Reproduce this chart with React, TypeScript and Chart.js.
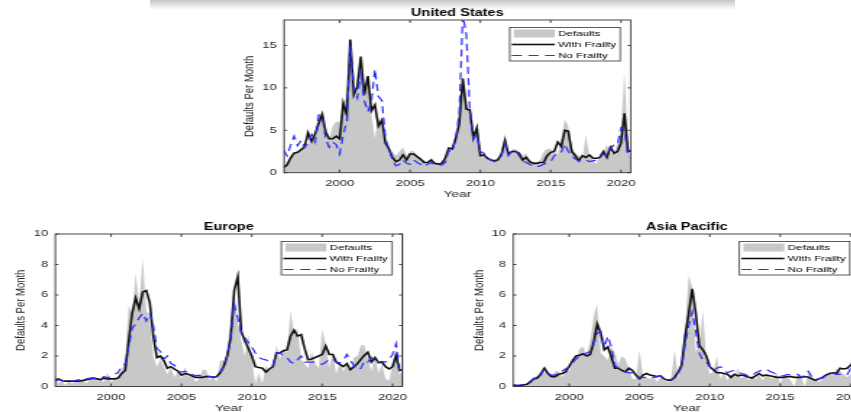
import React, { useEffect, useRef } from "react";
import { Chart, registerables } from "chart.js";

Chart.register(...registerables);

// ---------- data ----------
const YEARS = Array.from({ length: 100 }, (_, i) => 1996 + i / 4); // quarterly, 1996.00 .. 2020.75
const X_TICKS = [2000, 2005, 2010, 2015, 2020];
const US_Y_TICKS = [0, 5, 10, 15];
const REGION_Y_TICKS = [0, 2, 4, 6, 8, 10];
const SERIES_NAMES = ["Defaults", "With Frailty", "No Frailty"];
const X_TITLE = "Year";
const Y_TITLE = "Defaults Per Month";

const US_DEFAULTS = [
  0.5, 1.2, 2.0, 2.3, 2.5, 3.0, 3.5, 3.3, 4.0, 4.2, 6.5, 7.0, 5.0, 4.0, 5.5, 6.0,
  6.0, 8.0, 9.0, 14.5, 9.5, 10.0, 12.0, 9.0, 10.5, 7.0, 4.0, 6.5, 5.5, 3.5, 2.5, 2.5,
  2.0, 2.5, 3.0, 2.0, 2.5, 2.6, 2.0, 1.5, 1.5, 1.0, 1.8, 1.2, 1.2, 1.0, 2.0, 2.5,
  3.2, 4.5, 6.0, 10.5, 8.0, 7.0, 5.0, 4.5, 2.3, 2.0, 1.8, 1.5, 1.5, 1.8, 2.5, 4.7,
  2.0, 2.8, 2.8, 2.5, 2.0, 2.3, 1.5, 1.3, 1.2, 1.5, 2.5, 2.8, 2.8, 2.5, 2.2, 4.0,
  6.3, 5.5, 3.0, 2.3, 2.0, 1.5, 4.5, 2.0, 1.5, 1.0, 2.3, 2.5, 3.3, 2.3, 2.2, 3.5,
  5.0, 11.8, 3.5, 2.0,
];
const US_FRAILTY = [
  0.6, 0.9, 1.7, 2.3, 2.4, 2.7, 3.0, 4.7, 3.7, 4.6, 5.8, 6.9, 4.8, 4.0, 4.0, 4.3,
  4.0, 8.2, 6.8, 15.7, 9.2, 10.2, 13.7, 9.2, 11.4, 7.3, 8.0, 5.5, 6.2, 3.5, 2.8, 1.8,
  1.3, 1.5, 2.1, 1.5, 2.2, 2.2, 1.9, 1.6, 1.2, 1.2, 1.5, 1.1, 1.0, 1.1, 1.7, 2.9,
  2.8, 4.0, 5.8, 11.1, 7.5, 7.4, 4.1, 5.3, 2.0, 2.1, 1.7, 1.5, 1.4, 1.5, 2.2, 3.8,
  2.2, 2.5, 2.5, 2.3, 1.5, 1.8, 1.3, 1.1, 1.1, 1.2, 1.2, 2.0, 2.4, 2.5, 3.6, 3.1,
  5.0, 4.9, 2.5, 2.0, 1.4, 2.0, 1.8, 2.1, 1.7, 1.7, 1.8, 2.5, 1.8, 3.0, 2.3, 2.5,
  3.5, 7.0, 2.5, 2.6,
];
const US_NO_FRAILTY = [
  2.7, 2.0, 3.2, 4.3, 3.2, 3.8, 3.0, 3.5, 4.5, 3.6, 6.8, 6.6, 4.0, 3.0, 3.6, 3.3,
  2.2, 4.5, 6.0, 15.0, 10.0, 8.8, 11.9, 8.5, 7.2, 8.4, 12.2, 9.0, 8.5, 4.0, 2.8, 1.5,
  0.8, 1.0, 1.5, 1.1, 1.0, 1.5, 1.2, 1.0, 0.7, 1.0, 1.2, 0.9, 0.9, 0.9, 1.2, 2.6,
  2.5, 4.0, 7.0, 18.5, 16.3, 7.5, 4.0, 4.5, 2.5, 2.3, 1.7, 1.5, 1.3, 1.5, 2.0, 3.4,
  2.0, 2.6, 2.6, 2.0, 1.4, 1.2, 1.0, 0.7, 0.7, 0.8, 1.0, 1.2, 1.3, 2.0, 2.3, 2.4,
  3.4, 2.5, 2.0, 1.6, 1.4, 1.5, 1.5, 1.3, 1.4, 1.5, 1.8, 2.2, 2.0, 2.8, 3.3, 3.3,
  5.3, 5.0, 2.0, 1.8,
];

const EU_DEFAULTS = [
  0.9, 0.2, 0.4, 0.1, 0.4, 0.2, 0.4, 0.3, 0.5, 0.2, 0.5, 0.6, 0.4, 0.5, 0.3, 0.9,
  0.3, 0.5, 0.5, 1.0, 1.8, 5.3, 4.8, 7.4, 5.5, 8.4, 5.0, 4.5, 2.0, 1.3, 1.8, 1.3,
  0.8, 1.3, 0.6, 1.0, 0.5, 1.3, 0.6, 0.9, 0.3, 0.5, 1.1, 1.1, 0.4, 0.7, 0.3, 1.7,
  1.7, 2.2, 4.6, 6.1, 4.3, 3.0, 2.0, 3.4, 1.8, 0.2, 0.9, 0.2, 1.4, 1.0, 1.3, 2.7,
  1.8, 2.5, 2.2, 5.0, 3.5, 3.8, 1.8, 1.5, 1.2, 2.3, 1.5, 1.2, 3.7, 2.8, 1.2, 2.3,
  0.8, 1.6, 1.0, 1.5, 1.0, 1.9, 2.0, 2.7, 2.7, 1.8, 1.0, 2.0, 0.9, 1.5, 0.5, 0.4,
  1.5, 2.2, 0.8, 1.0,
];
const EU_FRAILTY = [
  0.4, 0.5, 0.4, 0.35, 0.35, 0.35, 0.35, 0.35, 0.4, 0.45, 0.5, 0.55, 0.5, 0.45, 0.55, 0.5,
  0.5, 0.5, 0.55, 0.85, 1.05, 3.0, 4.8, 5.8, 5.1, 6.2, 6.3, 5.5, 3.3, 1.9, 2.0, 1.7,
  1.2, 1.3, 1.15, 1.0, 0.75, 0.85, 0.8, 0.7, 0.6, 0.6, 0.6, 0.65, 0.65, 0.6, 0.65, 0.9,
  1.3, 2.0, 3.2, 6.3, 7.2, 3.6, 3.0, 2.5, 2.0, 1.3, 1.25, 1.2, 0.95, 1.15, 1.3, 2.2,
  2.2, 2.35, 2.4, 3.3, 3.7, 3.3, 3.4, 2.5, 1.75, 1.8, 1.9, 2.0, 2.1, 2.65, 2.1, 2.1,
  1.6, 1.45, 1.3, 1.5, 1.1, 1.3, 1.5, 1.8, 2.05, 2.25, 1.6, 1.9, 1.55, 1.6, 1.3, 1.15,
  1.3, 2.05, 1.05, 1.1,
];
const EU_NO_FRAILTY = [
  0.35, 0.45, 0.4, 0.35, 0.35, 0.35, 0.4, 0.45, 0.4, 0.5, 0.55, 0.55, 0.5, 0.5, 0.65, 0.55,
  0.7, 0.8, 0.9, 1.3, 1.5, 2.6, 3.8, 4.1, 4.5, 4.8, 4.3, 4.8, 4.0, 2.5, 2.3, 1.8,
  2.0, 1.5, 1.4, 1.0, 0.95, 1.0, 0.85, 0.8, 0.7, 0.75, 0.65, 0.7, 0.65, 0.6, 0.65, 0.9,
  1.3, 2.0, 3.3, 5.4, 4.5, 3.5, 3.2, 2.9, 2.6, 2.2, 1.9, 1.8, 1.75, 1.6, 1.4, 2.2,
  2.2, 2.0, 1.9, 1.6, 1.5, 1.75, 2.0, 1.6, 1.6, 1.6, 1.6, 1.5, 1.45, 1.6, 1.8, 1.8,
  1.6, 1.55, 1.7, 2.1, 1.7, 1.4, 1.1, 1.2, 1.7, 1.6, 1.9, 1.7, 1.6, 1.65, 1.6, 1.8,
  2.1, 2.8, 1.1, 1.1,
];

const AP_DEFAULTS = [
  0.3, 0.0, 0.1, 0.0, 0.1, 0.3, 0.6, 0.7, 0.8, 0.9, 1.0, 0.6, 1.0, 1.0, 0.6, 1.1,
  1.0, 1.6, 1.8, 2.5, 2.6, 2.1, 3.0, 4.6, 5.4, 2.2, 2.0, 1.7, 2.6, 2.2, 1.5, 2.0,
  1.8, 1.2, 0.5, 0.5, 2.4, 0.6, 0.6, 0.5, 0.7, 0.3, 0.6, 0.4, 0.3, 0.6, 2.4, 0.5,
  2.0, 4.0, 7.3, 6.5, 2.3, 2.7, 5.0, 1.8, 0.8, 1.0, 2.0, 0.5, 0.9, 0.4, 0.8, 0.6,
  1.2, 0.5, 0.8, 0.4, 0.7, 0.5, 0.8, 0.4, 0.9, 0.6, 0.5, 0.9, 0.2, 0.7, 0.6, 0.4,
  0.0, 0.8, 0.6, 0.0, 0.9, 0.6, 0.5, 0.3, 0.5, 0.6, 0.9, 0.7, 1.2, 1.0, 0.8, 0.6,
  0.8, 1.0, 1.0, 1.0,
];
const AP_FRAILTY = [
  0.1, 0.05, 0.05, 0.1, 0.15, 0.3, 0.5, 0.55, 0.85, 1.2, 0.85, 0.65, 0.65, 0.8, 0.85, 0.95,
  1.3, 1.7, 2.0, 2.05, 2.15, 2.0, 2.1, 2.9, 4.1, 3.5, 2.4, 2.6, 1.95, 1.2, 1.2, 1.05,
  0.95, 1.2, 1.05, 0.75, 0.5, 0.75, 0.85, 0.75, 0.7, 0.65, 0.7, 0.5, 0.42, 0.42, 0.6, 0.95,
  1.4, 3.3, 4.8, 6.4, 4.8, 2.7, 2.4, 2.0, 1.3, 1.1, 0.9, 0.9, 0.85, 0.8, 0.6, 0.8,
  0.7, 0.75, 0.7, 0.6, 0.55, 0.7, 0.85, 0.7, 0.75, 0.7, 0.65, 0.6, 0.6, 0.6, 0.65, 0.65,
  0.6, 0.6, 0.6, 0.65, 0.6, 0.5, 0.4, 0.5, 0.6, 0.75, 0.85, 0.9, 0.85, 1.2, 1.15, 1.2,
  1.4, 1.6, 1.5, 1.5,
];
const AP_NO_FRAILTY = [
  0.1, 0.1, 0.1, 0.15, 0.2, 0.35, 0.55, 0.5, 0.75, 1.1, 0.85, 0.75, 0.75, 0.9, 1.0, 1.15,
  1.3, 1.55, 1.8, 2.0, 2.0, 2.2, 2.3, 2.8, 3.5, 3.6, 2.6, 3.3, 2.6, 1.4, 1.2, 1.1,
  0.95, 0.9, 0.9, 0.8, 0.55, 0.6, 0.6, 0.6, 0.6, 0.65, 0.7, 0.5, 0.45, 0.45, 0.55, 0.85,
  1.3, 2.8, 4.0, 4.9, 3.6, 2.2, 1.7, 1.6, 1.3, 1.0, 1.2, 1.3, 1.1, 0.9, 1.0, 1.05,
  0.95, 0.85, 0.8, 0.65, 0.7, 0.9, 1.0, 1.1, 1.15, 1.0, 0.9, 0.8, 0.7, 0.7, 0.8, 0.75,
  0.75, 0.8, 0.6, 0.75, 1.0, 0.6, 0.5, 0.5, 0.55, 0.7, 0.85, 0.85, 0.8, 0.8, 0.75, 0.75,
  1.2, 2.1, 1.8, 1.5,
];

// ---------- layout / style ----------
const S = 1.45; // horizontal stretch of the reference figure
const W_U = 300; // unscaled canvas width
const FONT = '"Liberation Sans", Arial, Helvetica, sans-serif';
const AXIS_COLOR = "#333333";
const TEXT_COLOR = "#262626";
const GRAY = "#c8c8c8";
const BLACK = "#111111";
const BLUE = "rgb(45,45,255)";
const DASH = [7, 4.5];

type PanelCfg = {
  title: string;
  defaults: number[];
  frailty: number[];
  noFrailty: number[];
  yMax: number;
  yTicks: number[];
  x: number; y: number; h: number;
  L: number; R: number; T: number; B: number;
};

const PANELS: PanelCfg[] = [
  { title: "United States", defaults: US_DEFAULTS, frailty: US_FRAILTY, noFrailty: US_NO_FRAILTY,
    yMax: 18, yTicks: US_Y_TICKS, x: 230, y: 0, h: 205, L: 284, R: 630.7, T: 20, B: 172.7 },
  { title: "Europe", defaults: EU_DEFAULTS, frailty: EU_FRAILTY, noFrailty: EU_NO_FRAILTY,
    yMax: 10, yTicks: REGION_Y_TICKS, x: 0, y: 212, h: 210, L: 55.3, R: 402.3, T: 234, B: 386.5 },
  { title: "Asia Pacific", defaults: AP_DEFAULTS, frailty: AP_FRAILTY, noFrailty: AP_NO_FRAILTY,
    yMax: 10, yTicks: REGION_Y_TICKS, x: 460, y: 212, h: 210, L: 513.3, R: 860.3, T: 234, B: 386.5 },
];

const framePlugin = {
  id: "matlabFrame",
  afterDraw(chart: any) {
    const { ctx, chartArea: a, scales } = chart;
    const xs = scales.x;
    const ys = scales.y;
    ctx.save();
    ctx.strokeStyle = AXIS_COLOR;
    ctx.lineWidth = 0.9;
    ctx.setLineDash([]);
    ctx.strokeRect(a.left, a.top, a.right - a.left, a.bottom - a.top);
    ctx.beginPath();
    xs.ticks.forEach((t: any) => {
      const px = xs.getPixelForValue(t.value);
      ctx.moveTo(px, a.bottom); ctx.lineTo(px, a.bottom - 3);
      ctx.moveTo(px, a.top); ctx.lineTo(px, a.top + 3);
    });
    ys.ticks.forEach((t: any) => {
      const py = ys.getPixelForValue(t.value);
      ctx.moveTo(a.left, py); ctx.lineTo(a.left + 2.2, py);
      ctx.moveTo(a.right, py); ctx.lineTo(a.right - 2.2, py);
    });
    ctx.stroke();

    // legend box (upper right, inside axes)
    const bw = 76.2, bh = 33.5;
    const bx = a.right - 7.2 - bw;
    const by = a.top + 7.5;
    ctx.fillStyle = "#ffffff";
    ctx.fillRect(bx, by, bw, bh);
    ctx.strokeStyle = AXIS_COLOR;
    ctx.lineWidth = 0.8;
    ctx.strokeRect(bx, by, bw, bh);
    const ds = chart.data.datasets;
    const rows = [by + 6, by + 17, by + 28];
    ctx.fillStyle = GRAY;
    ctx.fillRect(bx + 2.8, rows[0] - 4, 28.2, 8);
    ctx.strokeStyle = BLACK;
    ctx.lineWidth = 1.6;
    ctx.beginPath(); ctx.moveTo(bx + 1.4, rows[1]); ctx.lineTo(bx + 31, rows[1]); ctx.stroke();
    ctx.strokeStyle = BLUE;
    ctx.lineWidth = 1.2;
    ctx.setLineDash(DASH);
    ctx.beginPath(); ctx.moveTo(bx + 1.4, rows[2]); ctx.lineTo(bx + 31, rows[2]); ctx.stroke();
    ctx.setLineDash([]);
    ctx.fillStyle = "#000000";
    ctx.font = `8px ${FONT}`;
    ctx.textAlign = "left";
    ctx.textBaseline = "middle";
    ds.forEach((d: any, i: number) => ctx.fillText(d.label, bx + 33.3, rows[i]));
    ctx.restore();
  },
};

function Panel({ cfg }: { cfg: PanelCfg }) {
  const ref = useRef<HTMLCanvasElement | null>(null);
  useEffect(() => {
    if (!ref.current) return;
    const top = cfg.T - cfg.y;
    const bottom = cfg.B - cfg.y;
    const titlePadTop = top - 6.8 - 6;
    const titlePadBottom = top - titlePadTop - 12;
    const xHeight = cfg.h - bottom;
    const yearPadBottom = xHeight - 21.4 - 5.7;
    const plU = (cfg.L - cfg.x) / S;
    const prU = W_U - (cfg.R - cfg.x) / S;
    const yTitlePad = plU - 34.4 / S - 5.7;
    const pts = (arr: number[]) => YEARS.map((x, i) => ({ x, y: arr[i] }));

    const chart = new Chart(ref.current, {
      type: "line",
      data: {
        datasets: [
          { label: SERIES_NAMES[0], data: pts(cfg.defaults), fill: "origin", backgroundColor: GRAY,
            borderColor: "rgba(0,0,0,0)", borderWidth: 0, pointRadius: 0, tension: 0, order: 3 },
          { label: SERIES_NAMES[1], data: pts(cfg.frailty), fill: false, borderColor: BLACK,
            borderWidth: 1.6, pointRadius: 0, tension: 0, order: 2 },
          { label: SERIES_NAMES[2], data: pts(cfg.noFrailty), fill: false, borderColor: BLUE,
            borderWidth: 1.2, borderDash: DASH, pointRadius: 0, tension: 0, order: 1 },
        ],
      } as any,
      options: {
        animation: false,
        responsive: true,
        maintainAspectRatio: false,
        layout: { padding: { left: 0, right: prU, top: 0, bottom: 0 } },
        events: [],
        plugins: {
          legend: { display: false },
          tooltip: { enabled: false },
          title: {
            display: true, text: cfg.title, fullSize: false, color: "#000000",
            font: { family: FONT, size: 10, weight: "bold" },
            padding: { top: titlePadTop, bottom: titlePadBottom },
          },
        },
        scales: {
          x: {
            type: "linear", position: "bottom", min: 1996.04, max: 2020.69,
            afterBuildTicks: (s: any) => { s.ticks = X_TICKS.map((v) => ({ value: v })); },
            afterFit: (s: any) => { s.height = xHeight; },
            grid: { display: false, drawTicks: false },
            border: { display: false },
            ticks: { padding: 5.4, color: TEXT_COLOR, font: { family: FONT, size: 9 },
              maxRotation: 0, autoSkip: false, callback: (v: any) => String(v) },
            title: { display: true, text: X_TITLE, color: TEXT_COLOR, font: { family: FONT, size: 9.5 },
              padding: { top: 0, bottom: yearPadBottom } },
          },
          y: {
            type: "linear", position: "left", min: 0, max: cfg.yMax,
            afterBuildTicks: (s: any) => { s.ticks = cfg.yTicks.map((v) => ({ value: v })); },
            afterFit: (s: any) => { s.width = plU; },
            grid: { display: false, drawTicks: false },
            border: { display: false },
            ticks: { padding: 5, color: TEXT_COLOR, font: { family: FONT, size: 9 },
              autoSkip: false, callback: (v: any) => String(v) },
            title: { display: true, text: Y_TITLE, color: TEXT_COLOR, font: { family: FONT, size: 9.5 },
              padding: { top: yTitlePad, bottom: 0 } },
          },
        },
      } as any,
      plugins: [framePlugin],
    });
    return () => chart.destroy();
  }, [cfg]);

  return (
    <div
      style={{
        position: "absolute", left: cfg.x, top: cfg.y, width: W_U, height: cfg.h,
        transform: `scaleX(${S})`, transformOrigin: "0 0",
      }}
    >
      <canvas ref={ref} />
    </div>
  );
}

export default function App() {
  return (
    <div style={{ position: "fixed", left: 0, top: 0, width: 851, height: 412, overflow: "hidden", background: "#ffffff" }}>
      <div style={{ position: "absolute", left: 150, top: 0, width: 585, height: 10,
        background: "linear-gradient(#c6c6c6, #ffffff)" }} />
      {PANELS.map((p) => <Panel key={p.title} cfg={p} />)}
    </div>
  );
}
